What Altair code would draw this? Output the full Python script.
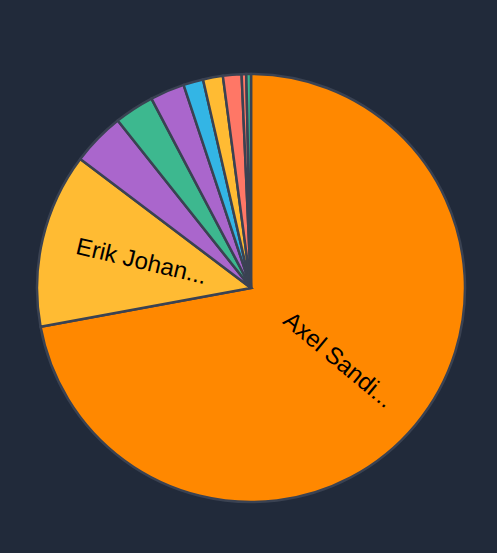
import math
import altair as alt
import pandas as pd

names = ["Axel Sandin Karlsson", "Erik Johansson Berg", "Lina Holm", "Maja Ek",
         "Oskar Lund", "Nils Berg", "Sara Falk", "Karin Nord", "Ida Lind", "Leo Sten"]
shares = [72.1, 13.2, 4.0, 3.0, 2.6, 1.5, 1.5, 1.4, 0.35, 0.35]
colors = ["#ff8800", "#ffbb33", "#aa66cc", "#3db88f", "#aa66cc", "#33b5e5",
          "#ffbb33", "#ff7766", "#ff7766", "#3db88f"]

df = pd.DataFrame({"idx": list(range(len(names))), "name": names, "share": shares})

theta_scale = alt.Scale(domain=[0, 100], range=[0, 2 * math.pi])

base = alt.Chart(df).transform_window(
    cum="sum(share)", sort=[alt.SortField("idx")], frame=[None, 0]
).transform_calculate(
    start="datum.cum - datum.share",
    mid="datum.cum - datum.share / 2",
).transform_calculate(
    ang="datum.mid * 3.6 < 180 ? datum.mid * 3.6 - 90 : datum.mid * 3.6 - 270"
)

arcs = base.mark_arc(outerRadius=214, stroke="#3a4252", strokeWidth=2.5).encode(
    theta=alt.Theta("start:Q", scale=theta_scale, stack=None),
    theta2="cum:Q",
    color=alt.Color("name:N", scale=alt.Scale(domain=names, range=colors), legend=None),
)

text_kw = dict(radius=46, baseline="middle", font="Liberation Sans", fontSize=24,
               color="black", limit=141, ellipsis="...")

right = base.transform_filter("datum.share >= 10 && datum.mid * 3.6 < 180").mark_text(
    align="left", **text_kw
).encode(
    theta=alt.Theta("mid:Q", scale=theta_scale, stack=None),
    angle=alt.Angle("ang:Q", scale=None),
    text="name:N",
)

left = base.transform_filter("datum.share >= 10 && datum.mid * 3.6 >= 180").mark_text(
    align="right", **text_kw
).encode(
    theta=alt.Theta("mid:Q", scale=theta_scale, stack=None),
    angle=alt.Angle("ang:Q", scale=None),
    text="name:N",
)

chart = alt.layer(arcs, right, left).properties(
    width=430, height=430,
    padding={"left": 24, "top": 61, "right": 10, "bottom": 10},
    background="#212a3a",
).configure_view(strokeWidth=0)

chart.save("out.html", embed_options={"renderer": "svg", "actions": False,
                                      "defaultStyle": "body { background: #212a3a; }"})
